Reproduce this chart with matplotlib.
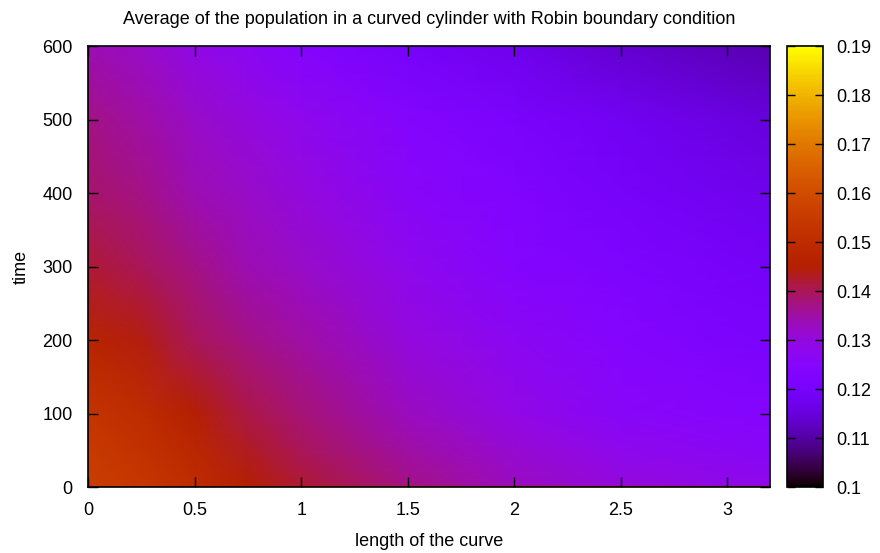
import numpy as np
import matplotlib
matplotlib.use("Agg")
import matplotlib.pyplot as plt

plt.rcParams['font.family'] = ['Liberation Sans', 'DejaVu Sans']

# positions along the curve
x_len = [0.0, 0.25, 0.5, 0.75, 1.0, 1.5, 2.0, 2.5, 3.2]
# time samples
t_vals = [0, 3, 50, 100, 200, 300, 400, 500, 600]
# average population (rows = time, cols = length)
row_t0 = [0.156, 0.153, 0.150, 0.149, 0.148, 0.147, 0.146, 0.146, 0.145]
row_t3 = [0.156, 0.154, 0.150, 0.145, 0.142, 0.137, 0.133, 0.130, 0.128]
row_t50 = [0.155, 0.152, 0.148, 0.143, 0.140, 0.135, 0.131, 0.128, 0.126]
row_t100 = [0.153, 0.150, 0.145, 0.141, 0.138, 0.133, 0.129, 0.126, 0.124]
row_t200 = [0.147, 0.144, 0.140, 0.137, 0.135, 0.130, 0.127, 0.124, 0.121]
row_t300 = [0.142, 0.140, 0.137, 0.134, 0.132, 0.128, 0.124, 0.122, 0.119]
row_t400 = [0.139, 0.137, 0.134, 0.132, 0.130, 0.126, 0.123, 0.120, 0.117]
row_t500 = [0.137, 0.135, 0.132, 0.130, 0.128, 0.124, 0.121, 0.118, 0.115]
row_t600 = [0.134, 0.132, 0.129, 0.127, 0.124, 0.120, 0.117, 0.114, 0.111]

xticks = [0, 0.5, 1, 1.5, 2, 2.5, 3]
xticklabels = ["0", "0.5", "1", "1.5", "2", "2.5", "3"]
yticks = [0, 100, 200, 300, 400, 500, 600]
cticks = [0.10, 0.11, 0.12, 0.13, 0.14, 0.15, 0.16, 0.17, 0.18, 0.19]
cticklabels = ["0.1", "0.11", "0.12", "0.13", "0.14", "0.15", "0.16", "0.17", "0.18", "0.19"]

Z = np.array([row_t0, row_t3, row_t50, row_t100, row_t200, row_t300,
              row_t400, row_t500, row_t600])

FS = 13
fig = plt.figure(figsize=(8.8, 5.53), dpi=100)
ax = fig.add_axes([0.1, 0.1193, 0.775, 0.7975])
cax = fig.add_axes([0.894, 0.1193, 0.041, 0.7975])

mesh = ax.pcolormesh(x_len, t_vals, Z, cmap='gnuplot', vmin=0.1, vmax=0.19,
                     shading='gouraud', rasterized=True)
ax.set_xlim(0, 3.2)
ax.set_ylim(0, 600)
ax.set_xticks(xticks)
ax.set_xticklabels(xticklabels)
ax.set_yticks(yticks)
ax.tick_params(direction='in', top=True, right=True, length=7, width=1,
               labelsize=FS, pad=11)
for s in ax.spines.values():
    s.set_linewidth(1.2)
ax.set_xlabel("length of the curve", fontsize=FS, labelpad=10)
ax.set_ylabel("time", fontsize=FS, labelpad=9)
ax.set_title("Average of the population in a curved cylinder with Robin boundary condition",
             fontsize=FS, pad=16)

cb = fig.colorbar(mesh, cax=cax, ticks=cticks)
cb.ax.set_yticklabels(cticklabels)
cb.ax.tick_params(direction='in', left=True, right=True, length=6, width=1,
                  labelsize=FS, pad=10)
cb.outline.set_linewidth(1.2)

fig.savefig("out.png", dpi=100)
